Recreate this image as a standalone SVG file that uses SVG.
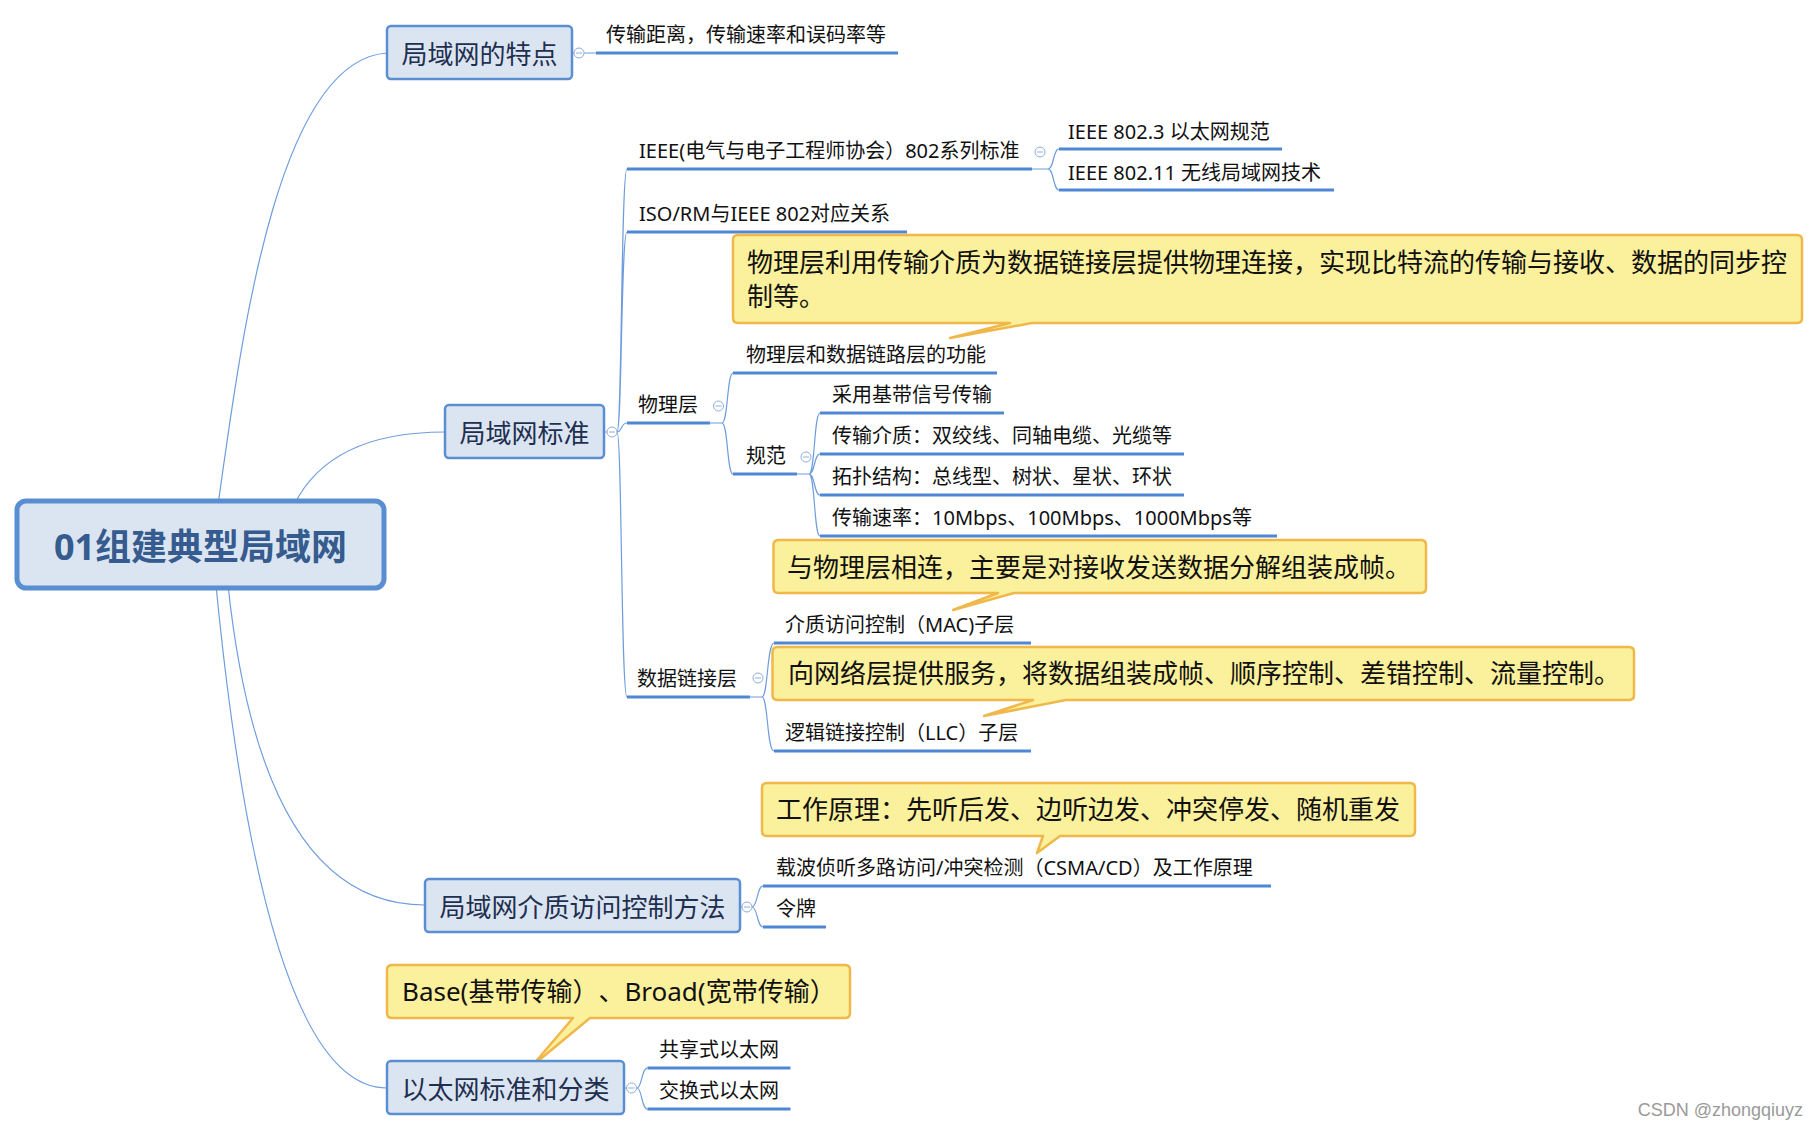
<svg xmlns="http://www.w3.org/2000/svg" width="1819" height="1131" viewBox="0 0 1819 1131">
<style>
text{font-family:"Noto Sans","Noto Sans CJK SC",sans-serif;text-spacing-trim:space-all}
.conn{fill:none;stroke:#6f9ddc;stroke-width:1.2}
.ul{stroke:#4f87d4;stroke-width:3;fill:none}
.leaf{font-size:20px;fill:#111}
.box{fill:#dbe5f1;stroke:#5a8ed2;stroke-width:2.5}
.boxt{font-size:26px;fill:#1f2f4f;text-anchor:middle}
.call{fill:#fbf09b;stroke:#f0b84a;stroke-width:2.5;stroke-linejoin:round}
.callt{font-size:26px;fill:#111}
.tog circle{fill:#fff;stroke:#8eaedb;stroke-width:1}
.tog line{stroke:#8eaedb;stroke-width:1}
</style>
<rect width="1819" height="1131" fill="#fff"/>
<g id="connectors">
<path class="conn" d="M218 505 C240 350 275 60 387 53"/>
<path class="conn" d="M294 505 Q330 432 445 432"/>
<path class="conn" d="M228 585 Q262 905 425 905"/>
<path class="conn" d="M216 585 Q265 1088 387 1088"/>
<path class="conn" d="M572 53 H574 M584 53 H596"/>
<path class="conn" d="M604 432 H607 M617 432 C622 432 621 169 627 169 M617 432 C622 432 621 232 627 232 M617 432 C622 432 621 423 627 423 M617 432 C622 432 621 697 627 697"/>
<path class="conn" d="M1032 169 H1048 C1054 169 1053 149 1059 149 M1048 169 C1054 169 1053 190 1059 190"/>
<path class="conn" d="M710 423 H722 C728 423 727 373 733 373 M722 423 C728 423 727 474 733 474"/>
<path class="conn" d="M797 474 H809 C815 474 814 413 820 413 M809 474 C815 474 814 454 820 454 M809 474 C815 474 814 495 820 495 M809 474 C815 474 814 536 820 536"/>
<path class="conn" d="M750 697 H762 C768 697 767 643 774 643 M762 697 C768 697 767 751 774 751"/>
<path class="conn" d="M740 907 H742 M752 907 C757.5 907 757 886 763 886 M752 907 C757.5 907 757 927 763 927"/>
<path class="conn" d="M624 1088 H626 M637 1088 C642 1088 641.5 1068 647.5 1068 M637 1088 C642 1088 641.5 1109 647.5 1109"/>
</g>
<g id="root">
<rect x="17" y="501" width="367" height="87" rx="9" fill="#dbe5f1" stroke="#5a8ed2" stroke-width="5"/>
<text x="200.5" y="560" font-size="36" font-weight="bold" fill="#365b8e" text-anchor="middle">01组建典型局域网</text>
</g>
<g id="n-features">
<rect class="box" x="387" y="26" width="185" height="53" rx="4"/>
<text class="boxt" x="479.5" y="64">局域网的特点</text>
<g class="tog"><circle cx="579" cy="53" r="5"/><line x1="576" y1="53" x2="582" y2="53"/></g>
<line class="ul" x1="596" y1="53" x2="898" y2="53"/>
<text class="leaf" x="606" y="42">传输距离，传输速率和误码率等</text>
</g>
<g id="n-standard">
<rect class="box" x="445" y="405" width="159" height="53" rx="4"/>
<text class="boxt" x="524.5" y="443">局域网标准</text>
<g class="tog"><circle cx="612" cy="432" r="5"/><line x1="609" y1="432" x2="615" y2="432"/></g>
</g>
<g id="n-ieee">
<line class="ul" x1="627" y1="169" x2="1032" y2="169"/>
<text class="leaf" x="639" y="158">IEEE(电气与电子工程师协会）802系列标准</text>
<g class="tog"><circle cx="1040" cy="152" r="5"/><line x1="1037" y1="152" x2="1043" y2="152"/></g>
</g>
<g id="n-8023">
<line class="ul" x1="1059" y1="149" x2="1282" y2="149"/>
<text class="leaf" x="1068" y="139">IEEE 802.3 以太网规范</text>
</g>
<g id="n-80211">
<line class="ul" x1="1059" y1="190" x2="1334" y2="190"/>
<text class="leaf" x="1068" y="180">IEEE 802.11 无线局域网技术</text>
</g>
<g id="n-iso">
<line class="ul" x1="627" y1="232" x2="907" y2="232"/>
<text class="leaf" x="639" y="221">ISO/RM与IEEE 802对应关系</text>
</g>
<g id="n-phy">
<line class="ul" x1="627" y1="423" x2="710" y2="423"/>
<text class="leaf" x="638" y="412">物理层</text>
<g class="tog"><circle cx="718.5" cy="406" r="5"/><line x1="715.5" y1="406" x2="721.5" y2="406"/></g>
</g>
<g id="c-phy">
<path class="call" d="M738 235 H1797 Q1802 235 1802 240 V318 Q1802 323 1797 323 H1032 L950 338 L1010 323 H738 Q733 323 733 318 V240 Q733 235 738 235 Z"/>
<text class="callt" x="747" y="272">物理层利用传输介质为数据链接层提供物理连接，实现比特流的传输与接收、数据的同步控</text>
<text class="callt" x="747" y="306">制等。</text>
</g>
<g id="n-func">
<line class="ul" x1="733" y1="373" x2="997" y2="373"/>
<text class="leaf" x="746" y="362">物理层和数据链路层的功能</text>
</g>
<g id="n-spec">
<line class="ul" x1="733" y1="474" x2="797" y2="474"/>
<text class="leaf" x="746" y="463">规范</text>
<g class="tog"><circle cx="806" cy="457" r="5"/><line x1="803" y1="457" x2="809" y2="457"/></g>
</g>
<g id="n-spec1">
<line class="ul" x1="820" y1="413" x2="1004" y2="413"/>
<text class="leaf" x="832" y="402">采用基带信号传输</text>
</g>
<g id="n-spec2">
<line class="ul" x1="820" y1="454" x2="1184" y2="454"/>
<text class="leaf" x="832" y="443">传输介质：双绞线、同轴电缆、光缆等</text>
</g>
<g id="n-spec3">
<line class="ul" x1="820" y1="495" x2="1184" y2="495"/>
<text class="leaf" x="832" y="484">拓扑结构：总线型、树状、星状、环状</text>
</g>
<g id="n-spec4">
<line class="ul" x1="820" y1="536" x2="1277" y2="536"/>
<text class="leaf" x="832" y="525">传输速率：10Mbps、100Mbps、1000Mbps等</text>
</g>
<g id="c-dl">
<path class="call" d="M778.5 540 H1421 Q1426 540 1426 545 V588 Q1426 593 1421 593 H1014 L953 610 L998 593 H778.5 Q773.5 593 773.5 588 V545 Q773.5 540 778.5 540 Z"/>
<text class="callt" x="787" y="577">与物理层相连，主要是对接收发送数据分解组装成帧。</text>
</g>
<g id="n-dl">
<line class="ul" x1="627" y1="697" x2="750" y2="697"/>
<text class="leaf" x="637" y="686">数据链接层</text>
<g class="tog"><circle cx="758" cy="678" r="5"/><line x1="755" y1="678" x2="761" y2="678"/></g>
</g>
<g id="n-mac">
<line class="ul" x1="774" y1="643" x2="1031" y2="643"/>
<text class="leaf" x="785" y="632">介质访问控制（MAC)子层</text>
</g>
<g id="c-mac">
<path class="call" d="M777.5 647 H1629 Q1634 647 1634 652 V695 Q1634 700 1629 700 H1066 L984 716 L1033 700 H777.5 Q772.5 700 772.5 695 V652 Q772.5 647 777.5 647 Z"/>
<text class="callt" x="788" y="683">向网络层提供服务，将数据组装成帧、顺序控制、差错控制、流量控制。</text>
</g>
<g id="n-llc">
<line class="ul" x1="774" y1="751" x2="1031" y2="751"/>
<text class="leaf" x="785" y="740">逻辑链接控制（LLC）子层</text>
</g>
<g id="c-csma">
<path class="call" d="M767 783 H1410 Q1415 783 1415 788 V831 Q1415 836 1410 836 H1060 L1037 853 L1043 836 H767 Q762 836 762 831 V788 Q762 783 767 783 Z"/>
<text class="callt" x="776" y="819">工作原理：先听后发、边听边发、冲突停发、随机重发</text>
</g>
<g id="n-mac-method">
<rect class="box" x="425" y="879" width="315" height="53" rx="4"/>
<text class="boxt" x="582.5" y="917">局域网介质访问控制方法</text>
<g class="tog"><circle cx="747" cy="907" r="5"/><line x1="744" y1="907" x2="750" y2="907"/></g>
</g>
<g id="n-csma">
<line class="ul" x1="763" y1="886" x2="1271" y2="886"/>
<text class="leaf" x="776" y="875">载波侦听多路访问/冲突检测（CSMA/CD）及工作原理</text>
</g>
<g id="n-token">
<line class="ul" x1="763" y1="927" x2="826" y2="927"/>
<text class="leaf" x="776" y="916">令牌</text>
</g>
<g id="c-base">
<path class="call" d="M392 965 H845 Q850 965 850 970 V1013 Q850 1018 845 1018 H590 L532 1066 L573 1018 H392 Q387 1018 387 1013 V970 Q387 965 392 965 Z"/>
<text class="callt" x="402" y="1001">Base(基带传输）、Broad(宽带传输）</text>
</g>
<g id="n-ether">
<rect class="box" x="387" y="1061" width="237" height="53" rx="4"/>
<text class="boxt" x="505.5" y="1099">以太网标准和分类</text>
<g class="tog"><circle cx="631.5" cy="1088" r="5"/><line x1="628.5" y1="1088" x2="634.5" y2="1088"/></g>
</g>
<g id="n-shared">
<line class="ul" x1="647.5" y1="1068" x2="790.5" y2="1068"/>
<text class="leaf" x="659" y="1057">共享式以太网</text>
</g>
<g id="n-switched">
<line class="ul" x1="647.5" y1="1109" x2="790.5" y2="1109"/>
<text class="leaf" x="659" y="1098">交换式以太网</text>
</g>
<text x="1803" y="1116" font-size="18" fill="#9a9a9a" text-anchor="end" style="font-family:'Liberation Sans',Arial,sans-serif">CSDN @zhongqiuyz</text>
</svg>
